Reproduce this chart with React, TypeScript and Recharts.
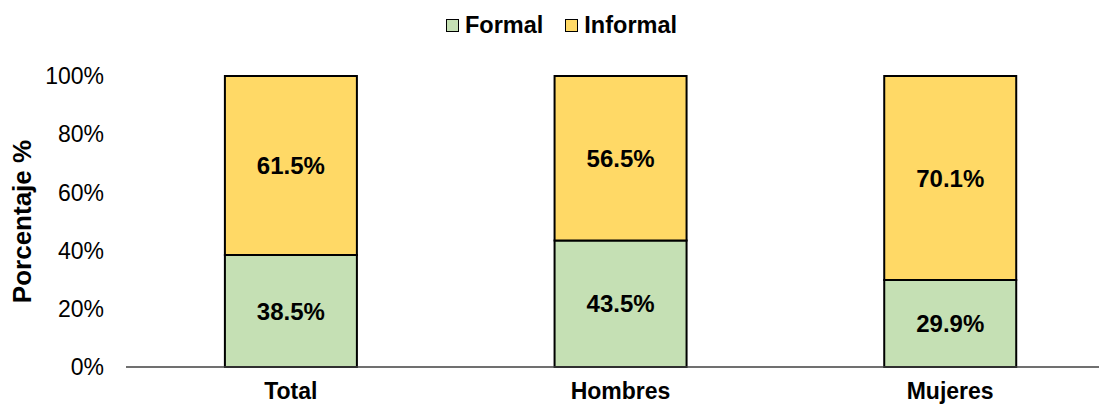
import { Bar, BarChart, LabelList, Legend, XAxis, YAxis } from "recharts"

const CATEGORIES = ["Total", "Hombres", "Mujeres"]
const FORMAL = [38.5, 43.5, 29.9]
const INFORMAL = [61.5, 56.5, 70.1]
const Y_TICKS = [0, 20, 40, 60, 80, 100]

const FONT = '"Liberation Sans", Arial, sans-serif'
const GREEN = "#C5E0B4"
const YELLOW = "#FFD966"

const SERIES = [
  { key: "formal", name: "Formal", color: GREEN },
  { key: "informal", name: "Informal", color: YELLOW },
]

const data = CATEGORIES.map((name, i) => ({
  name,
  formal: FORMAL[i],
  informal: INFORMAL[i],
}))

function LegendContent() {
  return (
    <div
      style={{
        height: 30,
        display: "flex",
        justifyContent: "center",
        alignItems: "center",
        gap: 22,
        paddingLeft: 8,
        fontFamily: FONT,
        fontWeight: 700,
        fontSize: 23.5,
        color: "#000",
      }}
    >
      {SERIES.map((s) => (
        <div key={s.key} style={{ display: "flex", alignItems: "center", gap: 6 }}>
          <span
            style={{
              width: 11,
              height: 11,
              background: s.color,
              border: "1.5px solid #000",
              display: "inline-block",
            }}
          />
          <span>{s.name}</span>
        </div>
      ))}
    </div>
  )
}

const labelStyle = { fontFamily: FONT, fontWeight: 700, fontSize: 24, fill: "#000" }

export default function App() {
  return (
    <div
      style={{
        position: "absolute",
        left: 0,
        top: 0,
        width: 1099,
        height: 407,
        overflow: "hidden",
        background: "#fff",
      }}
    >
      <BarChart
        width={1115}
        height={407}
        data={data}
        margin={{ top: 46, right: 0, bottom: 0, left: 0 }}
        barCategoryGap="30%"
      >
        <Legend
          verticalAlign="top"
          align="center"
          content={<LegendContent />}
          wrapperStyle={{ top: 10 }}
        />
        <XAxis
          dataKey="name"
          height={40}
          tickLine={false}
          tickSize={0}
          tickMargin={16}
          axisLine={{ stroke: "#404040", strokeWidth: 1.5 }}
          tick={{ ...labelStyle, fontSize: 23 }}
        />
        <YAxis
          width={126}
          domain={[0, 100]}
          ticks={Y_TICKS}
          interval={0}
          tickFormatter={(v) => `${v}%`}
          axisLine={false}
          tickLine={false}
          tickSize={0}
          tickMargin={22}
          tick={{ fontFamily: FONT, fontSize: 23, fill: "#000" }}
          label={{
            content: ({ viewBox }: any) => {
              const cx = 22
              const cy = viewBox.y + viewBox.height / 2
              return (
                <text
                  x={cx}
                  y={cy}
                  transform={`rotate(-90 ${cx} ${cy})`}
                  textAnchor="middle"
                  dominantBaseline="central"
                  style={{ ...labelStyle, fontSize: 26 }}
                >
                  Porcentaje %
                </text>
              )
            },
          }}
        />
        {SERIES.map((s) => (
          <Bar
            key={s.key}
            dataKey={s.key}
            name={s.name}
            stackId="a"
            fill={s.color}
            stroke="#000"
            strokeWidth={2}
            isAnimationActive={false}
          >
            <LabelList
              dataKey={s.key}
              position="center"
              formatter={(v: any) => `${Number(v).toFixed(1)}%`}
              style={labelStyle}
            />
          </Bar>
        ))}
      </BarChart>
    </div>
  )
}
